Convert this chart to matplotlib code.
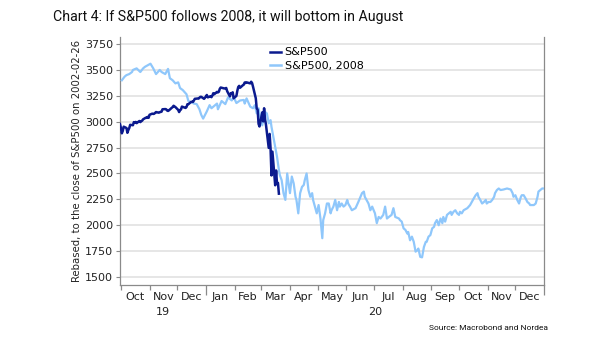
import matplotlib
matplotlib.use('Agg')
import matplotlib.pyplot as plt
import matplotlib.dates as mdates
import matplotlib.transforms as mtrans
from matplotlib.lines import Line2D
from matplotlib.ticker import NullFormatter
import pandas as pd

# ---------------- data ----------------
title = "Chart 4: If S&P500 follows 2008, it will bottom in August"
ylabel = "Rebased, to the close of S&P500 on 2002-02-26"
source = "Source: Macrobond and Nordea"
series_names = ["S&P500", "S&P500, 2008"]

# S&P500 daily closes (trading days 2019-09-30 .. 2020-03-20)
sp_start, sp_end = "2019-09-30", "2020-03-20"
sp_holidays = ["2019-11-28", "2019-12-25", "2020-01-01", "2020-01-20", "2020-02-17"]
sp_values = [2977,
             2940, 2888, 2911, 2952, 2939, 2893, 2919, 2938, 2970, 2966, 2996, 2990, 2998, 2986,
             3007, 2996, 3005, 3010, 3023, 3039, 3037, 3047, 3038,
             3067, 3078, 3075, 3077, 3085, 3093, 3087, 3092, 3094, 3097, 3120, 3122, 3120, 3108,
             3104, 3110, 3134, 3141, 3154, 3141,
             3114, 3093, 3113, 3117, 3146, 3136, 3133, 3142, 3169, 3169, 3191, 3193, 3191, 3205,
             3221, 3224, 3223, 3240, 3240, 3221, 3231,
             3258, 3235, 3246, 3237, 3253, 3275, 3265, 3288, 3283, 3289, 3317, 3330, 3321, 3322,
             3326, 3295, 3244, 3276, 3273, 3284, 3226,
             3249, 3298, 3335, 3346, 3328, 3352, 3358, 3379, 3374, 3380, 3370, 3386, 3373, 3338,
             3226, 3128, 3116, 2979, 2954,
             3090, 3003, 3130, 3024, 2972, 2747, 2882, 2741, 2481, 2711, 2386, 2529, 2398, 2409, 2305]

# S&P500 2008 path, rebased; days counted from 2019-10-01
light_base = "2019-10-01"
light_offsets = [1, 4, 6, 9, 12, 13, 17, 21, 24, 26, 29, 32, 35, 38, 42, 44, 48, 51, 53, 56,
                 59, 62, 64, 67, 71, 73, 76, 79, 82, 85, 87, 89, 93, 96, 98, 100, 104, 105, 109, 113,
                 116, 120, 122, 125, 129, 133, 134, 136, 140, 143, 145, 147, 149, 151, 153, 154, 156, 158, 160, 162,
                 163, 165, 167, 169, 171, 172, 174, 176, 178, 180, 181, 183, 185, 187, 189, 190, 192, 194, 196, 198,
                 199, 201, 203, 205, 207, 208, 210, 212, 214, 216, 218, 219, 221, 223, 225, 227, 228, 230, 232, 234,
                 236, 237, 239, 241, 243, 245, 246, 248, 250, 254, 257, 261, 263, 264, 268, 270, 272, 275, 277, 279,
                 281, 284, 286, 288, 290, 293, 295, 297, 301, 302, 304, 306, 308, 310, 311, 313, 315, 317, 319, 321,
                 322, 324, 326, 328, 330, 331, 333, 335, 337, 339, 340, 342, 344, 346, 348, 349, 351, 353, 355, 357,
                 358, 360, 362, 364, 366, 367, 369, 371, 375, 378, 382, 384, 386, 387, 389, 391, 393, 395, 396, 398,
                 400, 402, 404, 405, 407, 409, 411, 414, 418, 422, 424, 425, 427, 429, 431, 433, 434, 436, 438, 440,
                 442, 443, 445, 447, 449, 451, 452, 454, 456, 458]
light_values = [3400, 3435, 3450, 3460, 3480, 3500, 3515, 3480, 3515, 3530, 3545, 3560, 3515, 3460, 3500, 3480, 3460, 3510, 3420, 3400,
                3370, 3380, 3325, 3305, 3265, 3200, 3190, 3175, 3170, 3120, 3065, 3030, 3100, 3160, 3130, 3145, 3175, 3120, 3200, 3170,
                3235, 3205, 3240, 3180, 3205, 3210, 3175, 3225, 3145, 3130, 3160, 3080, 3130, 3030, 2965, 3015, 3095, 3080, 2985, 3015,
                2950, 2855, 2760, 2660, 2535, 2485, 2435, 2310, 2245, 2500, 2435, 2310, 2470, 2405, 2275, 2245, 2115, 2310, 2370, 2390,
                2435, 2500, 2340, 2275, 2310, 2245, 2180, 2115, 2195, 2065, 1875, 2050, 2115, 2210, 2210, 2115, 2145, 2180, 2245, 2145,
                2225, 2180, 2210, 2180, 2195, 2245, 2210, 2180, 2145, 2165, 2225, 2310, 2325, 2275, 2210, 2145, 2180, 2115, 2020, 2080,
                2065, 2100, 2180, 2065, 2080, 2100, 2165, 2080, 2065, 2050, 2035, 1970, 1955, 1920, 1935, 1855, 1890, 1840, 1745, 1760,
                1775, 1695, 1690, 1790, 1840, 1840, 1890, 1905, 1970, 1985, 2020, 2050, 2000, 2065, 2020, 2080, 2035, 2100, 2115, 2130,
                2100, 2130, 2145, 2115, 2100, 2130, 2115, 2145, 2165, 2195, 2260, 2290, 2310, 2275, 2245, 2210, 2225, 2245, 2210, 2225,
                2225, 2245, 2275, 2310, 2340, 2355, 2340, 2345, 2355, 2345, 2310, 2275, 2290, 2245, 2210, 2275, 2290, 2290, 2260, 2225,
                2210, 2195, 2195, 2195, 2210, 2275, 2325, 2340, 2355, 2355]

month_labels = ["Oct", "Nov", "Dec", "Jan", "Feb", "Mar", "Apr", "May", "Jun", "Jul",
                "Aug", "Sep", "Oct", "Nov", "Dec"]
year_labels = ["19", "20"]
yticks = [1500, 1750, 2000, 2250, 2500, 2750, 3000, 3250, 3500, 3750]

# ---------------- build series ----------------
sp_dates = pd.bdate_range(sp_start, sp_end, freq="C", holidays=sp_holidays)
assert len(sp_dates) == len(sp_values), (len(sp_dates), len(sp_values))
assert len(light_offsets) == len(light_values), (len(light_offsets), len(light_values))
light_dates = pd.Timestamp(light_base) + pd.to_timedelta(light_offsets, unit="D")

# ---------------- figure ----------------
W, H = 605, 341
fig = plt.figure(figsize=(W / 100, H / 100), dpi=100)
ax = fig.add_axes([120 / W, 1 - 285 / H, 424 / W, 248 / H])

dark_c = "#0b1a8e"
light_c = "#8fc7fb"
axis_c = "#8a8a8a"

ax.plot(light_dates, light_values, color=light_c, lw=1.6, zorder=3)
ax.plot(sp_dates, sp_values, color=dark_c, lw=1.8, zorder=4)

ax.set_xlim(pd.Timestamp("2019-09-30"), pd.Timestamp("2021-01-01"))
ax.set_ylim(1423, 3818)

ax.set_yticks(yticks)
ax.yaxis.grid(True, color="#e4e4e4", lw=1.3)
ax.set_axisbelow(True)
ax.tick_params(axis="y", direction="out", length=3, width=0.8, color=axis_c,
               labelsize=8, pad=2, labelcolor="#222222")

for s in ["left", "right", "bottom"]:
    ax.spines[s].set_color(axis_c)
    ax.spines[s].set_linewidth(0.9)
ax.spines["top"].set_visible(False)

ax.xaxis.set_major_locator(mdates.YearLocator())
ax.xaxis.set_minor_locator(mdates.MonthLocator())
ax.xaxis.set_major_formatter(NullFormatter())
ax.xaxis.set_minor_formatter(NullFormatter())
ax.tick_params(axis="x", which="major", direction="out", length=7, width=0.9, color=axis_c)
ax.tick_params(axis="x", which="minor", direction="out", length=3.5, width=0.9, color=axis_c)

trans = mtrans.blended_transform_factory(ax.transData, ax.transAxes)
month_starts = pd.date_range("2019-10-01", "2021-01-01", freq="MS")
for i, lab in enumerate(month_labels):
    mid = month_starts[i] + (month_starts[i + 1] - month_starts[i]) / 2
    ax.text(mdates.date2num(mid), -0.047, lab, transform=trans, ha="center", va="center",
            fontsize=8, color="#222222")
year_spans = [("2019-09-30", "2020-01-01"), ("2020-01-01", "2021-01-01")]
for (a, b), lab in zip(year_spans, year_labels):
    ta, tb = pd.Timestamp(a), pd.Timestamp(b)
    mid = ta + (tb - ta) / 2
    ax.text(mdates.date2num(mid), -0.108, lab, transform=trans, ha="center", va="center",
            fontsize=8, color="#222222")

handles = [Line2D([], [], color=dark_c, lw=1.8), Line2D([], [], color=light_c, lw=1.8)]
ax.legend(handles, series_names, loc="upper left", bbox_to_anchor=(0.354, 0.958),
          frameon=False, fontsize=8, handlelength=1.0, handletextpad=0.3,
          borderpad=0, borderaxespad=0, labelspacing=0.35)

fig.text(77 / W, 0.5 * ((1 - 285 / H) + (1 - 37 / H)), ylabel, rotation=90,
         ha="center", va="center", fontsize=7.3, color="#222222")

tfam = ["Roboto", "DejaVu Sans"]
t = fig.text(53 / W, 1 - 17 / H, title, ha="left", va="center", fontsize=11,
             family=tfam, color="#111111")
s = fig.text(548 / W, 1 - 328 / H, source, ha="right", va="center", fontsize=6.5,
             family=tfam, color="#111111")

# fit title / source widths to the reference
fig.canvas.draw()
r = fig.canvas.get_renderer()
for txt, target in [(t, 348), (s, 118)]:
    w = txt.get_window_extent(r).width
    txt.set_fontsize(txt.get_fontsize() * target / w)

fig.savefig("out.png", dpi=100)
